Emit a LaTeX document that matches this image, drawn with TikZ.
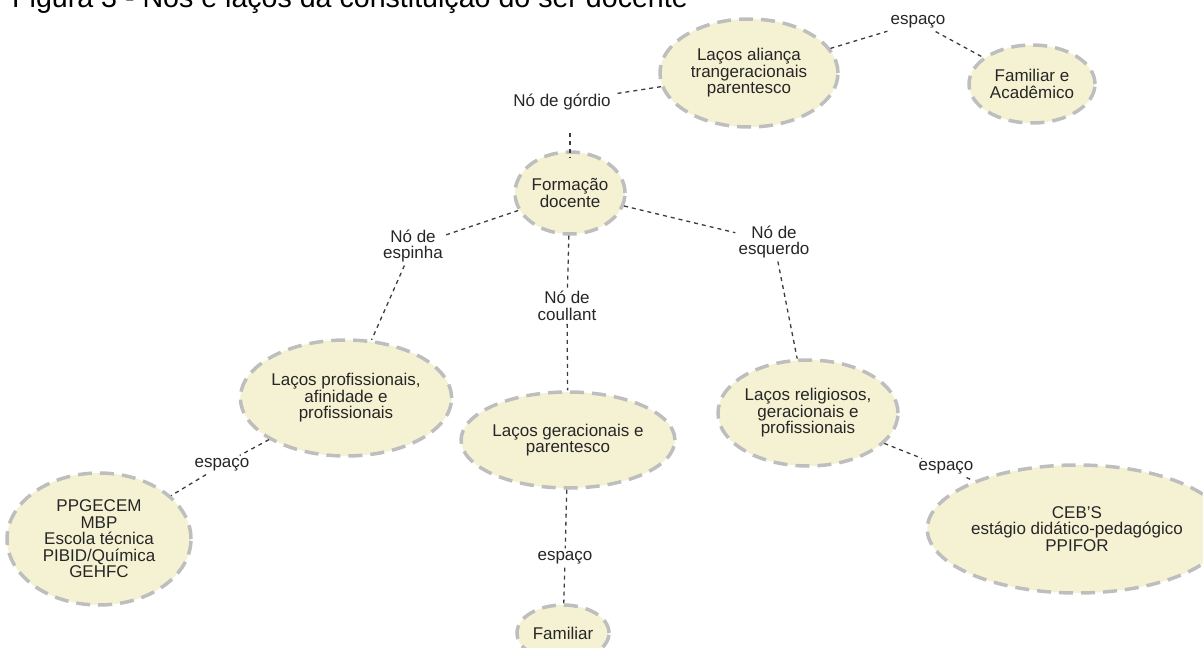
\documentclass[tikz,border=0pt]{standalone}
\usepackage{fontspec}
\setmainfont{Liberation Sans}
\usepackage{tikz}
\usetikzlibrary{shapes.geometric}
\usetikzlibrary{positioning}
\definecolor{creme}{HTML}{F5F2D4}
\definecolor{bordacinza}{HTML}{BEBEBE}
\definecolor{tracocinza}{HTML}{3C3C3C}
\tikzset{
    lacos/.style={
           ellipse,
           fill=creme,
           draw=bordacinza, line width=3.5pt,
           dash pattern=on 14pt off 8pt,
           inner sep=0pt,
           text=black!85,
           align=center,
           },
    rotulo/.style={
           %draw=black,
           inner sep=3pt,
           text=black!85,
           align=center,
           },
    elo/.style={
           draw=tracocinza,
           line width=1.3pt,
           dash pattern=on 4pt off 4pt,
           },
}

\begin{document}
\begin{tikzpicture}[x=1pt,y=-1pt,font=\fontsize{17}{16.5}\selectfont]
	\useasboundingbox (0,0) rectangle (1203,648);
	\clip (0,0) rectangle (1203,648);
	\node[anchor=base west, inner sep=0pt, font=\fontsize{28.6}{30}\selectfont] (titulo) at (12,7) {Figura 3 - Nós e laços da constituição do ser docente};
	
	%lacos
	\node[lacos, minimum width=178pt, minimum height=108pt] (alianca) at (749,73) {Laços aliança\\trangeracionais\\parentesco};
	\node[lacos, minimum width=126pt, minimum height=78pt] (familiarA) at (1032,84) {Familiar e\\Acadêmico};
	\node[lacos, minimum width=110pt, minimum height=82pt] (formacao) at (570,193) {Formação\\docente};
	\node[lacos, minimum width=202pt, minimum height=116pt] (profis) at (346,398) {Laços profissionais,\\afinidade e\\profissionais};
	\node[lacos, minimum width=194pt, minimum height=96pt] (geracionais) at (568,440) {Laços geracionais e\\parentesco};
	\node[lacos, minimum width=180pt, minimum height=106pt] (religiosos) at (808,413) {Laços religiosos,\\geracionais e\\profissionais};
	\node[lacos, minimum width=184pt, minimum height=132pt] (ppgecem) at (99,539) {PPGECEM\\MBP\\Escola técnica\\PIBID/Química\\GEHFC};
	\node[lacos, minimum width=248pt, minimum height=128pt] (ceb) at (1077,529) {CEB'S\\estágio didático-pedagógico\\PPIFOR};
	\node[lacos, minimum width=92pt, minimum height=56pt] (familiar) at (563,633) {Familiar};
	
	%rotulos
	\node[rotulo] (gordio) at (562,102) {Nó de górdio};
	\node[rotulo] (espacoA) at (918,22) {espaço};
	\node[rotulo] (espinha) at (413,246) {Nó de\\espinha};
	\node[rotulo] (coullant) at (567,306) {Nó de\\coullant};
	\node[rotulo] (esquerdo) at (774,242) {Nó de\\esquerdo};
	\node[rotulo] (espacoB) at (222,465) {espaço};
	\node[rotulo] (espacoC) at (565,558) {espaço};
	\node[rotulo] (espacoD) at (946,468) {espaço};
	
	%EDGES
	\path[elo]	(alianca) edge (gordio)
			(gordio.south -| formacao.north) edge[shorten <=20pt, shorten >=-8pt] (formacao.north)
			(alianca) edge (espacoA)
			(espacoA) edge (familiarA);
	\path[elo]	(formacao) edge (espinha)
			(espinha) edge (profis)
			(formacao) edge (coullant)
			(coullant) edge (geracionais)
			(formacao) edge (esquerdo)
			(esquerdo) edge (religiosos);
	\path[elo]	(profis) edge (espacoB)
			(espacoB) edge (ppgecem)
			(geracionais) edge (espacoC)
			(espacoC) edge (familiar)
			(religiosos) edge (espacoD)
			(espacoD) edge (ceb);
\end{tikzpicture}
\end{document}
